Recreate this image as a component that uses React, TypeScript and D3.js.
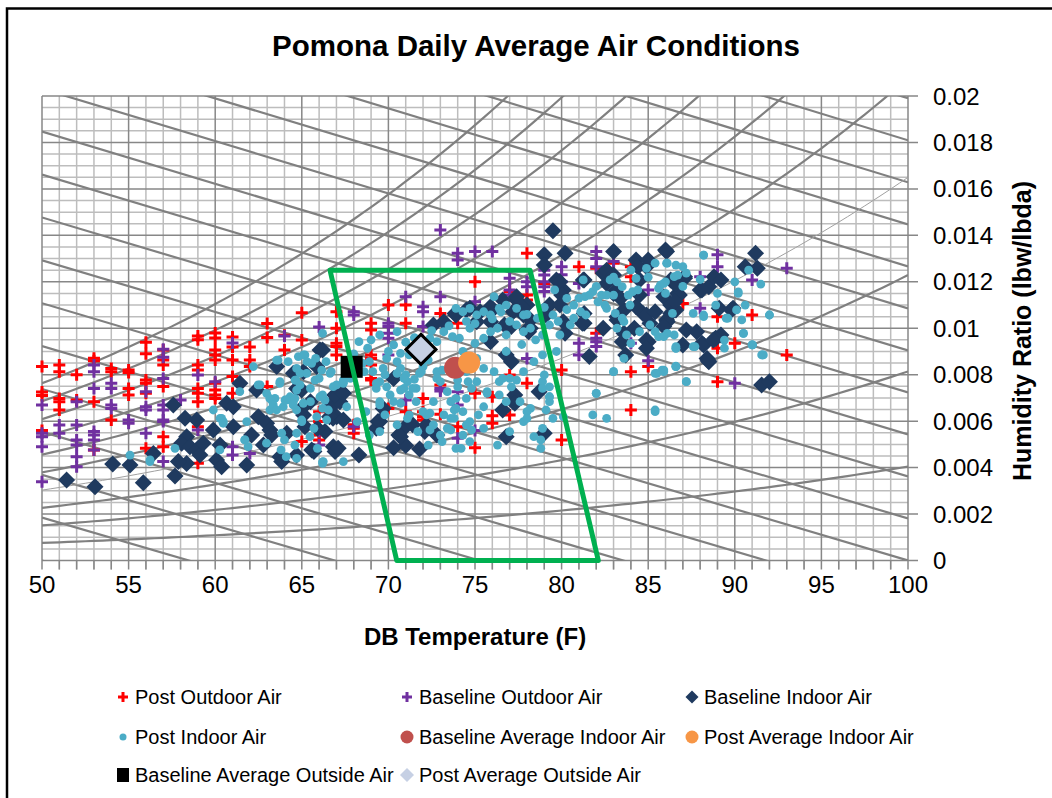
import React from "react";
import * as d3 from "d3";

// ---------- data (dry-bulb °F, humidity ratio lbw/lbda) ----------
const postOutdoor: [number, number][] = [
  [50,0.00835],[50,0.00725],[50,0.0071],[50,0.0056],
  [51,0.00842],[51,0.00813],[51,0.00698],[51,0.00684],[51,0.00648],
  [52,0.0080],[52,0.00691],
  [53,0.00871],[53,0.0086],[53,0.00684],[53,0.00476],
  [54,0.00827],[54,0.00813],[54,0.00605],
  [55,0.0082],[55,0.0081],[55,0.00741],[55,0.00713],
  [56,0.0094],[56,0.0089],[56,0.00777],[56,0.00763],[56,0.0072],[56,0.00483],
  [57,0.00906],[57,0.00863],[57,0.00842],[57,0.00749],[57,0.00533],[57,0.0049],
  [59,0.00967],[59,0.0095],[59,0.00842],[59,0.0082],[59,0.00741],[59,0.0072],[59,0.00684],[59,0.00576],[59,0.00419],
  [60,0.0098],[60,0.00958],[60,0.00906],[60,0.00885],[60,0.00863],[60,0.00763],[60,0.00734],[60,0.00713],[60,0.00698],
  [61,0.00962],[61,0.00919],[61,0.00863],[61,0.00792],[61,0.0072],
  [62,0.00919],[62,0.00863],[62,0.00835],
  [63,0.0102],[63,0.0096],[63,0.00749],
  [64,0.0097],[64,0.00906],
  [65,0.01067],[65,0.00949],[65,0.00512],
  [66,0.00641],[66,0.00598],[66,0.0054],[66,0.00519],
  [67,0.01071],[67,0.0100],[67,0.00935],[67,0.00921],[67,0.00885],
  [68,0.0082],[68,0.00584],[68,0.00569],[68,0.00548],
  [69,0.01021],[69,0.00993],[69,0.00885],[69,0.0087],[69,0.00842],[69,0.00784],[69,0.00777],
  [70,0.0110],[70,0.00655],
  [71,0.0110],[71,0.01021],[71,0.00641],
  [72,0.00698],[72,0.00641],[72,0.00619],[72,0.00605],
  [73,0.01064],[73,0.00756],[73,0.0063],
  [74,0.01021],[74,0.00576],
  [75,0.0120],[75,0.0072],[75,0.00486],
  [76,0.00705],[76,0.00623],[76,0.00591],
  [77,0.01158],[77,0.00799],[77,0.00627],
  [78,0.01323],[78,0.01143],[78,0.01122],[78,0.00763],
  [79,0.01193],
  [80,0.0082],[80,0.00519],
  [81,0.01265],
  [82,0.01258],[82,0.00978],
  [83,0.0128],
  [84,0.01265],[84,0.01222],[84,0.00813],[84,0.00648],
  [85,0.00835],
  [87,0.01107],
  [89,0.0105],[89,0.00914],[89,0.0077],
  [90,0.00935],
  [91,0.01057],
  [93,0.00885],
];

const baselineOutdoor: [number, number][] = [
  [50,0.0067],[50,0.00548],[50,0.00533],[50,0.0049],[50,0.00339],
  [51,0.00583],[51,0.00548],
  [52,0.00684],[52,0.00583],[52,0.00519],[52,0.00497],[52,0.00447],[52,0.00404],
  [53,0.00842],[53,0.00813],[53,0.00741],[53,0.00555],[53,0.0054],[53,0.00519],[53,0.00476],
  [54,0.00763],[54,0.00741],[54,0.0067],[54,0.00655],
  [55,0.00605],[55,0.00591],
  [56,0.00727],[56,0.00662],[56,0.00648],[56,0.00548],
  [57,0.0091],[57,0.00875],[57,0.00784],[57,0.0067],[57,0.00648],[57,0.00605],[57,0.00598],[57,0.00426],
  [58,0.00691],
  [59,0.00799],[59,0.00562],
  [60,0.0077],
  [61,0.00937],[61,0.0049],[61,0.00454],
  [62,0.00461],
  [64,0.00967],
  [66,0.01005],[66,0.00569],[66,0.00555],[66,0.00497],
  [68,0.01071],[68,0.01057],[68,0.00576],
  [70,0.01021],[70,0.01007],[70,0.00978],[70,0.00957],[70,0.00885],
  [71,0.01136],[71,0.00691],
  [72,0.01093],[72,0.01071],[72,0.01007],
  [73,0.01423],[73,0.01136],[73,0.00741],[73,0.0073],
  [74,0.01323],[74,0.01294],[74,0.00727],[74,0.0067],[74,0.00526],
  [75,0.0133],[75,0.01114],[75,0.0056],
  [76,0.0133],
  [77,0.01215],[77,0.01165],[77,0.01143],
  [78,0.0120],[78,0.01179],[78,0.0087],
  [79,0.0125],[79,0.01229],[79,0.0120],[79,0.01179],[79,0.01158],
  [80,0.01265],[80,0.0123],[80,0.0120],
  [81,0.01193],[81,0.00935],[81,0.00885],
  [82,0.0133],[82,0.0130],[82,0.01265],[82,0.00957],[82,0.00942],[82,0.00921],
  [83,0.01287],
  [84,0.00935],
  [85,0.01165],[85,0.0086],
  [88,0.01222],[88,0.01086],
  [89,0.01316],[89,0.01265],
  [90,0.00763],
  [91,0.01208],
  [93,0.01258],
];

const baselineIndoor: [number, number][] = [
  [51.42,0.00347],[53.06,0.00318],[54.08,0.00415],[55.08,0.00411],[55.85,0.00335],[56.43,0.00461],
  [57.58,0.0067],[57.68,0.00364],[58.26,0.00612],[58.93,0.00605],[58.35,0.00533],[58.06,0.00505],
  [58.54,0.0049],[58.93,0.00476],[59.12,0.00454],[59.31,0.00505],[58.35,0.00418],[57.87,0.00426],
  [59.89,0.00562],[60.08,0.00433],[60.37,0.00404],[60.28,0.00497],[60.66,0.00677],[61.05,0.00662],
  [61.05,0.00576],[61.43,0.00763],[61.82,0.00411],[62.1,0.0054],[62.39,0.00734],[62.49,0.00619],
  [62.78,0.00497],[62.97,0.00591],[63.16,0.00562],[63.26,0.0054],[63.55,0.00835],[63.74,0.00447],
  [63.84,0.00426],[64.13,0.00548],[64.51,0.00806],[64.7,0.00454],[64.99,0.00734],[65.09,0.00662],
  [65.18,0.00576],[65.57,0.00476],[65.86,0.00835],[66.05,0.00906],[66.34,0.00555],[66.72,0.00677],
  [66.82,0.0049],[66.92,0.00469],[67.01,0.00619],[67.3,0.00727],
  [66.2,0.00906],[65.1,0.00813],[64.7,0.00741],[65.5,0.00684],[65.1,0.00627],[66.8,0.0067],
  [66.8,0.00612],[67.2,0.00684],[67.1,0.00483],[65.9,0.00569],[65.7,0.00469],[68.3,0.00454],
  [69.4,0.00598],[69.7,0.00655],[70.9,0.00569],[70.3,0.00485],[71.0,0.00495],[71.8,0.0048],
  [70.6,0.0054],[72.1,0.00555],[71.4,0.00584],[72.8,0.0054],[70.3,0.00784],[70.7,0.00533],
  [72.2,0.00583],[66.9,0.00713],[67.4,0.0072],[66.6,0.00619],[67.4,0.00605],[69.3,0.00569],[69.5,0.00598],
  [72.6,0.01014],[73.9,0.01057],[74.7,0.01086],[75.1,0.01028],[75.3,0.01071],[75.9,0.01071],
  [76.7,0.01014],[76.8,0.00885],[77.1,0.00856],[77.8,0.01057],[78.2,0.0100],[78.7,0.00727],
  [77.2,0.00684],[76.6,0.00648],[79.0,0.00548],[76.8,0.00533],[75.9,0.00942],[77.3,0.00713],[77.3,0.00677],
  [79.5,0.0142],[79.0,0.01316],[79.0,0.01272],[77.4,0.01122],[77.2,0.01071],[78.0,0.0110],
  [79.3,0.0110],[79.1,0.01057],[75.9,0.01028],[73.2,0.01028],[78.1,0.00985],
  [73.85,0.01064],[74.5,0.01079],[75.9,0.01093],[76.6,0.01122],[77.4,0.01136],[77.7,0.01093],
  [78.2,0.01036],[77.1,0.01007],[78.0,0.00993],[80.1,0.01165],[79.7,0.01208],[81.3,0.01208],
  [81.3,0.01064],[81.3,0.01021],[82.4,0.01237],[82.6,0.01193],[83.0,0.0115],[83.6,0.01079],
  [84.3,0.01093],[84.7,0.01064],[85.1,0.01021],[85.9,0.01136],[86.3,0.01064],[83.2,0.01036],
  [83.6,0.00978],[84.9,0.00949],[86.7,0.0115],[86.3,0.01208],[84.9,0.01265],[84.5,0.01208],
  [80.2,0.01323],[79.9,0.0120],[80.0,0.01143],[79.9,0.0110],[80.1,0.01028],[80.2,0.00978],
  [81.2,0.01021],[81.6,0.00878],[82.4,0.0100],[82.6,0.0125],[83.0,0.0133],[83.0,0.01229],
  [83.1,0.01158],[83.4,0.01129],[83.2,0.0105],[83.5,0.00942],[83.7,0.00885],[84.3,0.01294],
  [84.4,0.01265],[84.2,0.0100],[84.5,0.01143],[84.9,0.01057],[85.0,0.01294],[85.0,0.00942],
  [84.9,0.00914],[85.4,0.01071],[86.0,0.01337],[86.1,0.01028],[86.3,0.0110],[86.6,0.01186],
  [86.6,0.01079],[86.8,0.01143],[87.1,0.01222],[87.2,0.00993],[87.8,0.00985],[88.0,0.01165],
  [88.2,0.00928],[88.5,0.01179],[88.5,0.00856],[88.8,0.01222],[89.2,0.01208],[89.1,0.01086],
  [89.9,0.01086],[88.9,0.00957],[89.2,0.00971],[90.6,0.01265],[91.2,0.01323],[91.3,0.01258],
  [91.55,0.00756],[92.0,0.0077],[81.25,0.01208],
  [86.06,0.0133],[87.1,0.01215],[86.6,0.01193],[86.55,0.01115],[88.1,0.01165],[89.8,0.01079],
  [87.0,0.00928],[88.1,0.00935],[88.9,0.00956],[88.4,0.0087],[86.06,0.01036],[85.9,0.01007],
  [88.47,0.0086],[88.76,0.00949],
];

const postIndoor: [number, number][] = [
  [55.08,0.00454],[56.24,0.00433],[57.68,0.00483],[59.89,0.00648],[60.28,0.00612],[60.47,0.00598],
  [61.82,0.00598],[61.72,0.00519],[62.2,0.00835],[62.59,0.00756],[62.97,0.0072],[63.16,0.00648],
  [63.26,0.00691],[63.45,0.00698],[63.55,0.00863],[63.74,0.0077],[63.84,0.00548],[63.93,0.00662],
  [64.03,0.00691],[64.32,0.00705],[64.51,0.00684],[64.61,0.00777],[64.8,0.00878],[64.7,0.00734],
  [64.9,0.00806],[64.99,0.00605],[65.09,0.00677],[65.18,0.00885],[65.28,0.00806],[65.47,0.00533],
  [65.57,0.00849],[65.76,0.00777],[65.86,0.00619],[66.05,0.00705],[66.15,0.0082],[66.24,0.00426],
  [66.34,0.00691],[66.44,0.00605],[66.53,0.00648],[66.63,0.00806],[66.82,0.00749],[67.01,0.00756],
  [67.4,0.00426],[67.4,0.00763],[67.59,0.00662],
  [56.23,0.00426],[60.37,0.00612],[60.46,0.00591],[61.42,0.00727],[62.48,0.00756],[63.15,0.00698],
  [63.35,0.0067],[63.63,0.00863],[64.21,0.00856],[63.73,0.00763],[64.12,0.00691],[64.6,0.00698],
  [64.7,0.00648],[63.54,0.00648],[61.7,0.00519],[61.9,0.0049],[62.96,0.00505],[64.0,0.00519],
  [63.8,0.00476],[64.1,0.00447],[64.7,0.00548],[64.65,0.00777],[60.27,0.00476],
  [66.2,0.00978],[65.1,0.00885],[64.7,0.00827],[65.3,0.00856],[65.8,0.0087],[66.4,0.00856],
  [66.7,0.00813],[66.0,0.00784],[64.9,0.00756],[65.5,0.00741],[66.2,0.00713],[64.5,0.0067],
  [65.5,0.00684],[66.2,0.00655],[65.0,0.00598],[65.7,0.00569],[64.6,0.00497],[66.2,0.00418],
  [67.4,0.0077],[67.7,0.00813],[68.3,0.00942],[68.8,0.00914],[68.9,0.00856],[69.1,0.00813],
  [69.5,0.0077],[69.9,0.0087],[69.5,0.00971],[70.3,0.00928],[70.5,0.00985],[70.5,0.00856],
  [70.7,0.00827],[71.0,0.00799],[71.1,0.0077],[70.9,0.00741],[71.2,0.00713],[71.6,0.00741],
  [70.1,0.00713],[69.3,0.00741],[69.5,0.00684],[70.3,0.00684],[69.8,0.00627],[70.5,0.00584],
  [71.2,0.00627],[71.6,0.00684],[69.5,0.00555],[68.9,0.0054],[68.2,0.00598],[68.7,0.00641],
  [71.7,0.00555],[72.2,0.00627],[72.6,0.00584],[73.0,0.0054],[72.3,0.00497],[73.4,0.00569],
  [73.8,0.00612],[73.9,0.00655],[74.3,0.00641],[74.5,0.00698],[74.8,0.00741],[75.1,0.0077],
  [73.6,0.00684],[73.4,0.00727],[72.8,0.00784],[71.9,0.00813],[71.2,0.00885],[70.7,0.00892],
  [72.4,0.00957],[72.8,0.00942],[73.2,0.00985],[73.7,0.00964],[74.1,0.00957],[74.7,0.0100],
  [75.0,0.00935],[75.5,0.00957],[75.9,0.00985],[76.3,0.0100],[76.8,0.00971],[77.4,0.01014],
  [77.8,0.00985],[78.2,0.0100],[78.6,0.01043],[78.9,0.00971],[79.3,0.01014],[73.9,0.01086],
  [74.3,0.01071],[74.7,0.01086],[75.1,0.01057],[75.5,0.01071],[75.9,0.01057],[76.4,0.01086],
  [76.8,0.0110],[76.1,0.01136],[77.4,0.01086],[77.8,0.01057],[75.1,0.0087],[75.5,0.00827],
  [76.1,0.00813],[76.4,0.0077],[77.0,0.00784],[77.8,0.00813],[78.4,0.00856],[78.9,0.0077],
  [79.3,0.00684],[78.2,0.00655],[77.8,0.00598],[77.0,0.00555],[76.3,0.00497],[75.5,0.00569],
  [74.7,0.00512],[74.3,0.0054],[73.9,0.00483],[78.9,0.00569],[79.5,0.00612],[78.8,0.00483],
  [74.5,0.00584],[73.2,0.00627],[72.6,0.00684],[72.0,0.00641],[75.7,0.00727],[76.8,0.00684],
  [77.6,0.00684],[66.2,0.00425],[65.9,0.00483],[64.7,0.0044],
  [67.4,0.00777],[67.8,0.00784],[68.6,0.00813],[69.3,0.00763],[69.7,0.00827],[70.5,0.00806],
  [70.7,0.00734],[70.9,0.00784],[70.7,0.00677],[71.1,0.00612],[71.4,0.00741],[71.8,0.00806],
  [72.0,0.00835],[72.3,0.00863],[72.8,0.00813],[73.1,0.0082],[72.4,0.00562],[73.1,0.00512],
  [73.6,0.00612],[73.8,0.00648],[73.9,0.00698],[74.0,0.00748],[73.9,0.00806],[74.0,0.00777],
  [74.2,0.00483],[74.5,0.00813],[74.6,0.0077],[74.7,0.00598],[74.8,0.00562],[75.2,0.00627],
  [75.5,0.00662],[75.7,0.0072],[76.4,0.00713],[76.6,0.00784],[77.1,0.00748],[77.4,0.00777],
  [78.0,0.00641],[78.0,0.00612],[78.8,0.00519],[78.4,0.00533],[79.1,0.00648],[79.3,0.00748],
  [79.3,0.00705],[80.1,0.00619],[79.7,0.0090],[78.9,0.00885],[81.8,0.00627],[82.6,0.00612],
  [82.0,0.0072],[83.0,0.00813],[85.4,0.00648],[85.5,0.00806],[85.9,0.0082],[86.6,0.00835],
  [73.6,0.00562],[72.4,0.00634],[69.9,0.00748],[69.5,0.0067],
  [79.6,0.01165],[81.25,0.01208],[81.35,0.01136],[81.8,0.01158],[82.3,0.01143],[82.5,0.0110],
  [82.8,0.01208],[83.2,0.0120],[83.5,0.01179],[83.1,0.01064],[83.5,0.01043],[83.85,0.01143],
  [83.95,0.0110],[84.1,0.01158],[84.4,0.01165],[84.3,0.01215],[84.9,0.01258],[85.4,0.0128],
  [85.6,0.01172],[85.7,0.01186],[86.0,0.0120],[86.1,0.0128],[86.6,0.01272],[86.7,0.01229],
  [87.0,0.01265],[85.6,0.00964],[86.1,0.00978],[86.5,0.00971],[86.6,0.00914],[87.2,0.0077],
  [87.6,0.00921],[88.2,0.01315],[88.2,0.01057],[89.5,0.01043],[90.2,0.0115],[90.6,0.0110],
  [90.4,0.01036],[90.5,0.00978],[91.0,0.00928],[91.55,0.00885],[92.0,0.01057],[90.1,0.01079],
  [83.0,0.00813],[82.0,0.0072],[85.4,0.00641],[85.8,0.0082],[85.4,0.00806],[86.6,0.00835],[83.6,0.0087],
  [80.7,0.0110],[80.3,0.01129],[81.1,0.01071],[81.6,0.01143],[82.1,0.01114],[82.6,0.01143],
  [81.4,0.01057],[80.5,0.01014],[79.9,0.00971],[79.5,0.01057],[80.7,0.01043],[83.2,0.0100],
  [83.6,0.01028],[83.75,0.00971],[83.0,0.01143],[82.6,0.01086],[84.0,0.00935],[84.5,0.00985],
  [85.1,0.01014],[85.4,0.00985],[78.9,0.00741],[79.3,0.00705],[79.0,0.00799],
  [88.2,0.01315],[86.06,0.0128],[87.2,0.01237],[86.5,0.01222],[85.9,0.01193],[90.2,0.01157],
  [88.9,0.0110],[89.6,0.01043],[92.0,0.01057],[87.6,0.01064],[88.2,0.0105],[86.4,0.01064],
  [90.5,0.00978],[91.03,0.00928],[91.6,0.00885],[89.4,0.00949],[86.6,0.00913],[85.9,0.00964],
  [91.65,0.00885],[91.0,0.00928],[89.4,0.00914],[87.7,0.00921],[86.6,0.00921],[86.6,0.00837],
  [87.2,0.0077],[85.9,0.00813],
  [71.5,0.0096],[72.0,0.0093],[71.0,0.0094],[73.5,0.0101],[74.5,0.0103],[76.0,0.0104],
  [77.0,0.0103],[78.0,0.0106],[79.0,0.0109],[76.5,0.0107],[75.0,0.0102],[72.5,0.0099],
  [70.0,0.0090],[69.0,0.0095],[68.0,0.0089],[67.5,0.0086],[68.5,0.0085],[69.8,0.0080],
  [71.5,0.0078],[73.0,0.0077],[74.3,0.0090],[76.8,0.0090],[77.7,0.0093],[78.5,0.0095],
  [79.8,0.0103],[80.3,0.0108],[81.0,0.0113],[82.0,0.0118],[83.0,0.0122],[84.0,0.0125],
  [85.0,0.0122],[86.0,0.0115],[87.0,0.0118],[88.0,0.0121],[89.0,0.0115],[90.0,0.0120],
  [90.8,0.0125],[91.5,0.0119],
];

const baselineAvgIndoor: [number, number][] = [[73.85, 0.0083]];
const postAvgIndoor: [number, number][] = [[74.66, 0.00852]];
const baselineAvgOutside: [number, number][] = [[67.88, 0.00834]];
const postAvgOutside: [number, number][] = [[71.88, 0.00909]];

// comfort zone polygon
const comfortZone: [number, number][] = [
  [66.63, 0.0125], [78.18, 0.0125], [82.12, 0.0], [70.48, 0.0],
];

// psychrometric reference lines
const rhLevels = [0.1, 0.2, 0.3, 0.4, 0.5, 0.6, 0.7, 0.8, 0.9, 1.0];
const enthalpyLevels = [12, 14, 16, 18, 20, 22, 24, 26, 28, 30, 32, 34, 36, 38, 40, 42, 44, 46];

const xTicks = [50, 55, 60, 65, 70, 75, 80, 85, 90, 95, 100];
const yTicks = [0, 0.002, 0.004, 0.006, 0.008, 0.01, 0.012, 0.014, 0.016, 0.018, 0.02];

const legendItems = [
  { label: "Post Outdoor Air", kind: "cross", color: "#FF0000" },
  { label: "Baseline Outdoor Air", kind: "cross", color: "#7030A0" },
  { label: "Baseline Indoor Air", kind: "diamond", color: "#1F3A5F" },
  { label: "Post Indoor Air", kind: "dot", color: "#4BACC6" },
  { label: "Baseline Average Indoor Air", kind: "circle", color: "#C0504D" },
  { label: "Post Average Indoor Air", kind: "circle", color: "#F79646" },
  { label: "Baseline Average Outside Air", kind: "square", color: "#000000" },
  { label: "Post Average Outside Air", kind: "diamondLight", color: "#C6D0E4" },
];

const W = 1052;
const H = 798;
const L = 42, R = 908, T0 = 96, B = 560.5;

function psat(tf: number) {
  const tc = (tf - 32) / 1.8;
  return 0.61078 * Math.exp((17.27 * tc) / (tc + 237.3));
}

export default function App() {
  const x = d3.scaleLinear().domain([50, 100]).range([L, R]);
  const y = d3.scaleLinear().domain([0, 0.02]).range([B, T0]);
  const line = d3.line<[number, number]>().x((d) => x(d[0])).y((d) => y(d[1]));

  const temps = d3.range(50, 100.01, 0.5);
  const rhPaths = rhLevels.map((rh) => ({
    rh,
    d: line(temps.map((t) => {
      const p = psat(t) * rh;
      return [t, (0.622 * p) / (101.325 - p)] as [number, number];
    }))!,
  }));
  const hPaths = enthalpyLevels.map((h) =>
    line([50, 100].map((t) => [t, (h - 0.24 * t) / (1061 + 0.444 * t)] as [number, number]))!
  );

  const minorX = d3.range(50, 101, 1);
  const minorY = d3.range(0, 41).map((i) => i * 0.0005);

  const font = "'Liberation Sans', Arial, sans-serif";

  const cross = (cx: number, cy: number, color: string, k: string | number, s = 6) => (
    <path key={k} d={`M${cx - s},${cy}H${cx + s}M${cx},${cy - s}V${cy + s}`} stroke={color} strokeWidth={3} />
  );
  const diamond = (cx: number, cy: number, s: number, fill: string, k: string | number, stroke?: string, sw = 0) => (
    <path key={k} d={`M${cx},${cy - s}L${cx + s},${cy}L${cx},${cy + s}L${cx - s},${cy}Z`} fill={fill}
      stroke={stroke || "none"} strokeWidth={sw} />
  );

  const legendPos = [
    [123, 697], [407, 697], [692, 697],
    [123, 737], [407, 737], [692, 737],
    [123, 775], [407, 775],
  ];

  return (
    <svg width={W} height={H} style={{ position: "absolute", left: 0, top: 0, background: "#fff" }}>
      <rect x={0} y={0} width={W} height={H} fill="#fff" />
      <rect x={7} y={8.5} width={W + 20} height={H + 20} fill="none" stroke="#000" strokeWidth={2.5} />
      <defs>
        <clipPath id="plot"><rect x={L} y={T0} width={R - L} height={B - T0} /></clipPath>
      </defs>

      {/* minor grid */}
      {minorX.filter((v) => v % 5 !== 0).map((v) => (
        <line key={"mx" + v} x1={x(v)} x2={x(v)} y1={T0} y2={B + 9} stroke="#BDBDBD" strokeWidth={1.5} />
      ))}
      {minorY.filter((_, i) => i % 4 !== 0).map((v, i) => (
        <line key={"my" + i} x1={L} x2={R} y1={y(v)} y2={y(v)} stroke="#BDBDBD" strokeWidth={1.5} />
      ))}
      {/* major grid */}
      {xTicks.map((v) => (
        <line key={"Mx" + v} x1={x(v)} x2={x(v)} y1={T0} y2={B + 9} stroke="#878787" strokeWidth={1.5} />
      ))}
      {minorX.filter((v) => v % 5 !== 0).map((v) => (
        <line key={"tx" + v} x1={x(v)} x2={x(v)} y1={B} y2={B + 9} stroke="#878787" strokeWidth={1.5} />
      ))}
      {yTicks.map((v, i) => (
        <line key={"My" + i} x1={L} x2={R + 10} y1={y(v)} y2={y(v)} stroke="#878787" strokeWidth={1.5} />
      ))}

      {/* psychrometric lines */}
      <g clipPath="url(#plot)" fill="none">
        {hPaths.map((d, i) => <path key={"h" + i} d={d} stroke="#808080" strokeWidth={2.2} />)}
        {rhPaths.map((p) => (
          <path key={"rh" + p.rh} d={p.d} stroke={p.rh === 0.4 ? "#A0A0A0" : "#808080"}
            strokeWidth={p.rh === 0.4 ? 1 : 2.2} />
        ))}
      </g>

      {/* series */}
      <g>
        {postOutdoor.map((d, i) => cross(x(d[0]), y(d[1]), "#FF0000", "po" + i))}
        {baselineOutdoor.map((d, i) => cross(x(d[0]), y(d[1]), "#7030A0", "bo" + i))}
        {baselineIndoor.map((d, i) => diamond(x(d[0]), y(d[1]), 8.5, "#1F3A5F", "bi" + i))}
        {postIndoor.map((d, i) => <circle key={"pi" + i} cx={x(d[0])} cy={y(d[1])} r={4.4} fill="#4BACC6" />)}
        {baselineAvgIndoor.map((d, i) => <circle key={"bai" + i} cx={x(d[0])} cy={y(d[1])} r={11} fill="#C0504D" />)}
        {postAvgIndoor.map((d, i) => <circle key={"pai" + i} cx={x(d[0])} cy={y(d[1])} r={11} fill="#F79646" />)}
        {baselineAvgOutside.map((d, i) => (
          <rect key={"bao" + i} x={x(d[0]) - 11} y={y(d[1]) - 11} width={22} height={22} fill="#000" />
        ))}
        {postAvgOutside.map((d, i) => diamond(x(d[0]), y(d[1]), 15, "#C6D0E4", "pao" + i, "#000", 3))}
        <path d={line(comfortZone)! + "Z"} fill="none" stroke="#00B050" strokeWidth={5} strokeLinejoin="round" />
      </g>

      {/* tick labels */}
      {xTicks.map((v) => (
        <text key={"xl" + v} x={x(v)} y={593} textAnchor="middle" fontFamily={font} fontSize={24} fill="#000">{v}</text>
      ))}
      {yTicks.map((v, i) => (
        <text key={"yl" + i} x={933} y={y(v) + 8.5} fontFamily={font} fontSize={24} fill="#000">{String(v)}</text>
      ))}

      {/* titles */}
      <text x={536} y={56} textAnchor="middle" fontFamily={font} fontWeight="bold" fontSize={29.5}>Pomona Daily Average Air Conditions</text>
      <text x={475} y={645} textAnchor="middle" fontFamily={font} fontWeight="bold" fontSize={24}>DB Temperature (F)</text>
      <text transform="translate(1031,331) rotate(-90)" textAnchor="middle" fontFamily={font} fontWeight="bold" fontSize={25}>Humidity Ratio (lbw/lbda)</text>

      {/* legend */}
      {legendItems.map((it, i) => {
        const [lx, ly] = legendPos[i];
        let m: React.ReactNode = null;
        if (it.kind === "cross") m = cross(lx, ly, it.color, "lm" + i, 5);
        else if (it.kind === "diamond") m = diamond(lx, ly, 6.5, it.color, "lm" + i);
        else if (it.kind === "dot") m = <circle cx={lx} cy={ly} r={3.5} fill={it.color} />;
        else if (it.kind === "circle") m = <circle cx={lx} cy={ly} r={6.5} fill={it.color} />;
        else if (it.kind === "square") m = <rect x={lx - 6} y={ly - 7} width={12} height={14} fill={it.color} />;
        else m = diamond(lx, ly, 7, it.color, "lm" + i);
        return (
          <g key={"lg" + i}>
            {m}
            <text x={lx + 12} y={ly + 7} fontFamily={font} fontSize={20} fill="#000">{it.label}</text>
          </g>
        );
      })}
    </svg>
  );
}
